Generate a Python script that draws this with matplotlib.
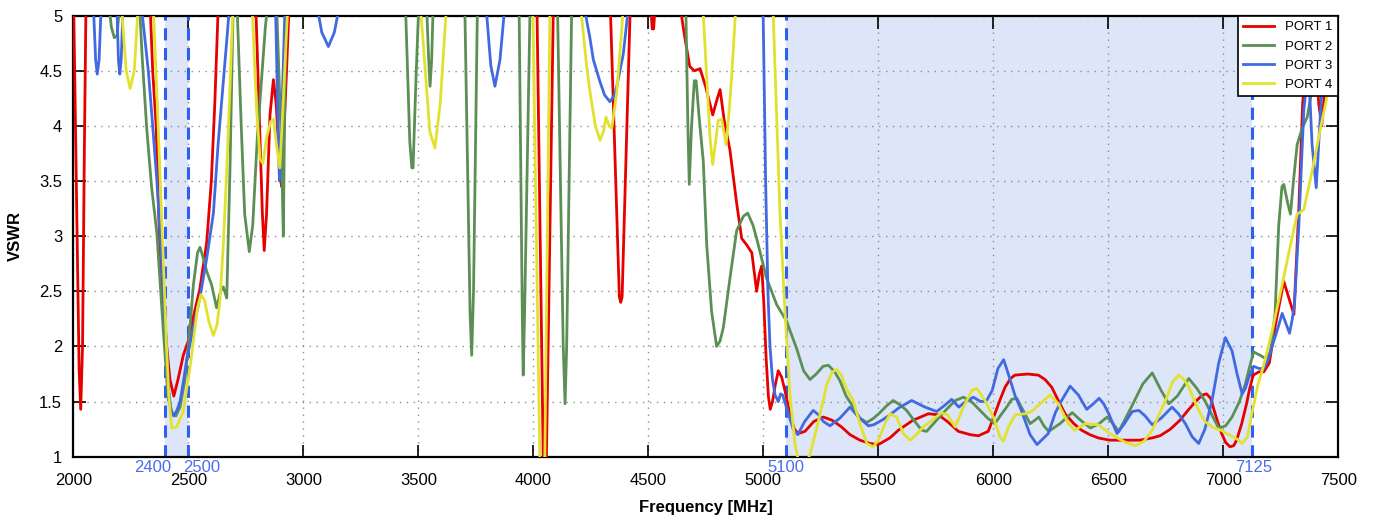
#!/usr/bin/python

"""
VSWR of the four antenna ports versus frequency
"""
import matplotlib
matplotlib.use('Agg')
import matplotlib.pyplot as plt
from matplotlib.ticker import MultipleLocator, FuncFormatter
from matplotlib.transforms import blended_transform_factory


# Data (values above 5 leave the plot at the top)
port1_freq = [
    2000, 2015, 2025, 2032, 2040, 2048, 2056,
    2330, 2345, 2360, 2374, 2390, 2406, 2420, 2437, 2455, 2478, 2500, 2525, 2550, 2580, 2600, 2615, 2632,
    2790, 2810, 2822, 2830, 2840, 2855, 2870, 2882, 2895, 2905, 2915, 2927, 2942,
    4015, 4043, 4050, 4057, 4088,
    4333, 4374, 4380, 4386, 4423,
    4510, 4517, 4523, 4530,
    4630, 4655, 4680, 4700, 4725, 4750, 4780, 4800, 4812, 4830,
    4855, 4884, 4906, 4928, 4950, 4962, 4971, 4982, 4993, 5002,
    5012, 5022, 5030, 5040, 5052, 5065, 5080, 5094, 5116, 5135,
    5152, 5181, 5220, 5261, 5300, 5340, 5377,
    5420, 5464, 5500, 5550, 5587, 5650, 5718, 5761, 5800, 5848,
    5900, 5935, 5978, 6007, 6030, 6051, 6075, 6094, 6150, 6196,
    6225, 6254, 6285, 6312, 6350, 6384, 6420, 6457,
    6507, 6580, 6638, 6690, 6725, 6770, 6811, 6850, 6884, 6910,
    6927, 6945, 6956, 6975, 6993, 7010, 7029, 7045, 7058, 7080,
    7101, 7115, 7130, 7155, 7176, 7200, 7227, 7250, 7263, 7285,
    7307, 7328, 7345, 7360, 7375, 7395, 7415, 7428, 7440, 7460, 7500,
]
port1_vswr = [
    5.3, 3.2, 1.8, 1.43, 2.0, 3.8, 5.3,
    5.3, 4.5, 4.0, 3.0, 2.4, 2.0, 1.7, 1.55, 1.7, 1.92, 2.05, 2.3, 2.52, 2.95, 3.5, 4.2, 5.2,
    5.3, 4.0, 3.2, 2.87, 3.2, 4.1, 4.42, 4.2, 3.7, 3.45, 3.9, 4.5, 5.3,
    5.2, 1.0, 0.8, 1.0, 5.2,
    5.2, 2.45, 2.4, 2.45, 5.2,
    5.1, 4.88, 4.88, 5.1,
    5.2, 4.85, 4.54, 4.5, 4.52, 4.35, 4.1, 4.25, 4.33, 4.05,
    3.78, 3.3, 2.98, 2.92, 2.85, 2.65, 2.5, 2.65, 2.73, 2.4,
    1.9, 1.55, 1.43, 1.5, 1.65, 1.78, 1.72, 1.6, 1.38, 1.25,
    1.21, 1.23, 1.32, 1.36, 1.33, 1.27, 1.2,
    1.15, 1.12, 1.11, 1.17, 1.24, 1.33, 1.39, 1.38, 1.32, 1.23,
    1.2, 1.19, 1.23, 1.39, 1.52, 1.63, 1.71, 1.74, 1.75, 1.74,
    1.7, 1.63, 1.5, 1.39, 1.3, 1.24, 1.2, 1.17,
    1.15, 1.15, 1.15, 1.17, 1.19, 1.25, 1.33, 1.43, 1.51, 1.56,
    1.57, 1.53, 1.45, 1.32, 1.21, 1.13, 1.09, 1.1, 1.15, 1.3,
    1.48, 1.62, 1.74, 1.77, 1.77, 1.85, 2.2, 2.45, 2.59, 2.44,
    2.29, 3.23, 4.2, 4.6, 5.1, 4.8, 4.2, 4.0, 4.3, 5.1, 5.5,
]

port2_freq = [
    2150, 2165, 2178, 2190, 2205,
    2285, 2300, 2319, 2340, 2363, 2392, 2413, 2430, 2446, 2464,
    2485, 2500, 2522, 2540, 2551, 2565, 2580, 2601, 2623, 2640,
    2652, 2667, 2681, 2696,
    2710, 2730, 2745, 2765, 2780, 2800, 2819, 2835, 2850,
    2882, 2905, 2913, 2918, 2925,
    3444, 3463, 3472, 3477, 3490, 3502,
    3534, 3545, 3551, 3558, 3566,
    3702, 3725, 3732, 3740, 3757,
    3938, 3952, 3956, 3962, 3986,
    4105, 4130, 4138, 4145, 4167,
    4662, 4672, 4678, 4688, 4700, 4708, 4720, 4739, 4754, 4775,
    4797, 4812, 4826, 4855, 4884, 4913, 4932, 4955, 4971, 5014,
    5058, 5101, 5145, 5175, 5203, 5230, 5260, 5283, 5310, 5333,
    5360, 5391, 5420, 5450, 5480, 5507, 5535, 5565, 5595, 5623,
    5655, 5689, 5710, 5740, 5770, 5797, 5835, 5870, 5905, 5942,
    5975, 6007, 6030, 6058, 6080, 6102, 6130, 6160, 6180, 6198,
    6220, 6241, 6290, 6343, 6380, 6422, 6460, 6495, 6520, 6546,
    6600, 6650, 6691, 6730, 6763, 6800, 6850, 6885, 6922, 6950,
    6980, 7010, 7038, 7070, 7096, 7115, 7132, 7160, 7184, 7205,
    7225, 7241, 7255, 7263, 7280, 7292, 7305, 7321, 7343, 7365,
    7394, 7423, 7445,
]
port2_vswr = [
    5.2, 4.9, 4.8, 4.82, 5.2,
    5.2, 4.6, 3.98, 3.45, 3.03, 2.12, 1.52, 1.4, 1.37, 1.45,
    1.7, 2.0, 2.56, 2.85, 2.9, 2.8, 2.68, 2.56, 2.35, 2.5,
    2.54, 2.44, 3.6, 5.2,
    5.2, 4.0, 3.2, 2.86, 3.1, 3.9, 4.44, 4.9, 5.2,
    5.2, 3.8, 3.0, 4.0, 5.2,
    5.1, 3.85, 3.62, 3.62, 4.44, 5.1,
    5.2, 4.6, 4.36, 4.6, 5.2,
    5.1, 2.3, 1.92, 2.5, 5.1,
    5.1, 2.3, 1.74, 2.3, 5.1,
    5.1, 2.0, 1.48, 2.0, 5.1,
    5.2, 4.0, 3.47, 4.0, 4.41, 4.41, 4.1, 3.68, 2.92, 2.32,
    2.0, 2.05, 2.17, 2.62, 3.05, 3.18, 3.21, 3.1, 2.98, 2.62,
    2.38, 2.23, 1.98, 1.78, 1.7, 1.75, 1.82, 1.83, 1.77, 1.69,
    1.55, 1.45, 1.35, 1.31, 1.35, 1.4, 1.46, 1.51, 1.47, 1.42,
    1.33, 1.24, 1.23, 1.3, 1.37, 1.43, 1.51, 1.54, 1.5, 1.42,
    1.35, 1.3, 1.37, 1.45, 1.52, 1.53, 1.42, 1.3, 1.33, 1.36,
    1.28, 1.23, 1.3, 1.4, 1.33, 1.26, 1.3, 1.36, 1.3, 1.23,
    1.45, 1.66, 1.76, 1.6, 1.48, 1.55, 1.71, 1.62, 1.5, 1.38,
    1.26, 1.28, 1.36, 1.5, 1.66, 1.82, 1.95, 1.92, 1.89, 1.95,
    2.3, 3.1, 3.45, 3.47, 3.3, 3.2, 3.5, 3.83, 3.98, 4.08,
    4.44, 4.86, 5.2,
]

port3_freq = [
    2085, 2097, 2104, 2112, 2123,
    2188, 2196, 2202, 2208, 2218,
    2290, 2308, 2326, 2345, 2363, 2378, 2392, 2405, 2415, 2425,
    2437, 2450, 2464, 2480, 2493, 2522, 2551, 2580, 2609, 2630,
    2652, 2670, 2683,
    2878, 2890, 2896, 2905, 2922,
    3050, 3080, 3109, 3135, 3167,
    3790, 3815, 3833, 3855, 3881,
    4210, 4246, 4261, 4290, 4310, 4333, 4350, 4362, 4391, 4420,
    4998, 5010, 5020, 5029, 5040, 5051, 5065, 5075, 5084, 5100,
    5115, 5130, 5150, 5180, 5217, 5240, 5261, 5290, 5333, 5377,
    5413, 5457, 5480, 5515, 5551, 5587, 5645, 5703, 5754, 5785,
    5819, 5850, 5880, 5913, 5945, 5971, 5995, 6020, 6045, 6070,
    6095, 6120, 6160, 6190, 6239, 6270, 6297, 6334, 6370, 6406,
    6435, 6460, 6480, 6502, 6538, 6570, 6604, 6633, 6660, 6691,
    6730, 6777, 6805, 6835, 6865, 6893, 6920, 6951, 6980, 7009,
    7038, 7060, 7082, 7096, 7111, 7132, 7155, 7176, 7195, 7212,
    7235, 7256, 7270, 7288, 7300, 7310, 7328, 7350, 7370, 7386,
    7404, 7423, 7444, 7455,
]
port3_vswr = [
    5.2, 4.6, 4.47, 4.6, 5.2,
    5.2, 4.6, 4.47, 4.6, 5.2,
    5.2, 4.85, 4.5, 4.0, 3.51, 3.0, 2.48, 2.0, 1.6, 1.4,
    1.37, 1.42, 1.5, 1.7, 1.88, 2.17, 2.45, 2.8, 3.21, 3.85,
    4.4, 4.85, 5.2,
    5.2, 4.0, 3.5, 4.0, 5.2,
    5.2, 4.85, 4.72, 4.85, 5.2,
    5.2, 4.55, 4.36, 4.6, 5.2,
    5.2, 4.8, 4.6, 4.4, 4.28, 4.22, 4.27, 4.35, 4.65, 5.2,
    5.2, 3.5, 2.5, 2.0, 1.7, 1.56, 1.5, 1.57, 1.56, 1.45,
    1.35, 1.25, 1.2, 1.32, 1.42, 1.38, 1.32, 1.28, 1.35, 1.45,
    1.36, 1.28, 1.29, 1.33, 1.38, 1.44, 1.51, 1.45, 1.41, 1.46,
    1.52, 1.45, 1.5, 1.54, 1.5, 1.51, 1.6, 1.8, 1.88, 1.72,
    1.55, 1.43, 1.2, 1.11, 1.21, 1.4, 1.51, 1.64, 1.56, 1.43,
    1.48, 1.53, 1.48, 1.39, 1.21, 1.3, 1.41, 1.42, 1.37, 1.29,
    1.35, 1.45, 1.39, 1.3, 1.18, 1.12, 1.25, 1.51, 1.85, 2.08,
    1.96, 1.75, 1.57, 1.62, 1.72, 1.82, 1.8, 1.8, 1.88, 2.0,
    2.15, 2.3, 2.22, 2.12, 2.25, 2.4, 3.08, 4.14, 4.55, 3.83,
    3.44, 4.14, 4.86, 5.2,
]

port4_freq = [
    2205, 2230, 2247, 2265, 2285,
    2345, 2365, 2378, 2391, 2405, 2415, 2428, 2449, 2478, 2493,
    2510, 2522, 2540, 2555, 2570, 2590, 2609, 2625, 2638, 2652,
    2667, 2680, 2696,
    2775, 2797, 2812, 2824, 2841, 2858, 2870, 2885, 2898, 2912, 2935,
    3505, 3530, 3550, 3572, 3595, 3626,
    3997, 4028, 4036, 4050, 4073,
    4200, 4232, 4247, 4270, 4290, 4305, 4316, 4330, 4341, 4362, 4380, 4395,
    4734, 4754, 4768, 4780, 4792, 4804, 4819, 4838, 4850, 4862, 4884,
    5040, 5072, 5094, 5116, 5138, 5152, 5170, 5190, 5203, 5232,
    5254, 5275, 5300, 5319, 5340, 5360, 5391, 5420, 5450, 5478,
    5500, 5529, 5551, 5580, 5609, 5638, 5665, 5700, 5740, 5775,
    5800, 5834, 5870, 5906, 5928, 5964, 6000, 6029, 6044, 6066,
    6095, 6138, 6167, 6203, 6247, 6283, 6326, 6355, 6399, 6457,
    6500, 6531, 6575, 6618, 6655, 6691, 6720, 6749, 6780, 6806,
    6830, 6850, 6893, 6920, 6951, 6990, 7024, 7060, 7082, 7105,
    7126, 7150, 7169, 7190, 7212, 7256, 7292, 7321, 7350, 7386,
    7423, 7459, 7495,
]
port4_vswr = [
    5.2, 4.5, 4.34, 4.5, 5.2,
    5.2, 4.2, 3.5, 2.8, 2.0, 1.55, 1.26, 1.27, 1.41, 1.62,
    1.85, 2.05, 2.35, 2.47, 2.42, 2.22, 2.1, 2.2, 2.43, 2.92,
    3.6, 4.3, 5.2,
    5.2, 4.14, 3.7, 3.66, 3.9, 4.04, 4.06, 3.8, 3.62, 4.2, 5.2,
    5.2, 4.5, 3.95, 3.8, 4.2, 5.2,
    5.2, 1.0, 0.8, 1.0, 5.2,
    5.2, 4.54, 4.3, 4.0, 3.87, 3.95, 4.08, 4.0, 3.98, 4.29, 4.75, 5.2,
    5.2, 4.44, 3.9, 3.65, 3.85, 4.05, 4.06, 3.83, 4.1, 4.44, 5.2,
    5.2, 3.23, 2.32, 1.56, 1.11, 0.97, 0.94, 0.96, 1.02, 1.26,
    1.45, 1.65, 1.77, 1.79, 1.74, 1.62, 1.51, 1.3, 1.12, 1.09,
    1.15, 1.3, 1.39, 1.36, 1.21, 1.15, 1.2, 1.28, 1.34, 1.4,
    1.38, 1.27, 1.45, 1.6, 1.62, 1.51, 1.36, 1.18, 1.14, 1.27,
    1.38, 1.39, 1.41, 1.48, 1.56, 1.48, 1.3, 1.24, 1.3, 1.29,
    1.22, 1.18, 1.13, 1.1, 1.14, 1.24, 1.38, 1.51, 1.68, 1.74,
    1.7, 1.63, 1.42, 1.32, 1.27, 1.24, 1.2, 1.16, 1.12, 1.18,
    1.41, 1.65, 1.78, 1.95, 2.14, 2.56, 2.92, 3.2, 3.24, 3.59,
    3.98, 4.35, 4.74,
]

port_labels = ['PORT 1', 'PORT 2', 'PORT 3', 'PORT 4']
port_colors = ['#e60000', '#5b8f56', '#4169e1', '#e2e22e']

# Frequency bands (MHz)
bands = [(2400, 2500), (5100, 7125)]
band_edges = [2400, 2500, 5100, 7125]


def plot_vswr():
    fig = plt.figure(figsize=(13.76, 5.2), dpi=100)
    ax = fig.add_axes([0.0533, 0.1217, 0.9193, 0.8481])

    # Shaded bands and their dashed edges
    for lo, hi in bands:
        ax.axvspan(lo, hi, color='#dce6f8', lw=0, zorder=0.2)
    for edge in band_edges:
        ax.axvline(edge, color='#2f5ff0', lw=2.2, ls=(0, (4, 2.5)), zorder=1.6)

    # Edge labels just under the axis
    trans = blended_transform_factory(ax.transData, ax.transAxes)
    offsets = {2400: (4, 'right'), 2500: (-4, 'left'), 5100: (0, 'center'), 7125: (1, 'center')}
    for edge in band_edges:
        dx, ha = offsets[edge]
        ax.annotate(str(edge), xy=(edge, -0.024), xycoords=trans,
                    xytext=(dx, 0), textcoords='offset points',
                    ha=ha, va='center', fontsize=12, color='#4a6cf0',
                    annotation_clip=False)

    # Ports
    series = [
        (port1_freq, port1_vswr),
        (port2_freq, port2_vswr),
        (port3_freq, port3_vswr),
        (port4_freq, port4_vswr),
    ]
    for (freq, vswr), label, color in zip(series, port_labels, port_colors):
        assert len(freq) == len(vswr), label
        ax.plot(freq, vswr, color=color, lw=2.0, label=label, zorder=3,
                solid_joinstyle='round')

    ax.set_xlim(2000, 7500)
    ax.set_ylim(1, 5)
    ax.xaxis.set_major_locator(MultipleLocator(500))
    ax.yaxis.set_major_locator(MultipleLocator(0.5))
    ax.yaxis.set_major_formatter(FuncFormatter(lambda v, p: '%g' % v))

    ax.grid(True, color='#8c8c8c', ls=(0, (1, 4)), lw=1.0)
    ax.tick_params(direction='in', length=9, width=1.2, top=True, right=True,
                   labelsize=12)
    ax.tick_params(axis='x', pad=12)
    ax.tick_params(axis='y', pad=8)
    for sp in ax.spines.values():
        sp.set_linewidth(1.6)

    ax.set_xlabel('Frequency [MHz]', fontsize=12, fontweight='bold')
    ax.xaxis.set_label_coords(0.5, -0.099)
    ax.set_ylabel('VSWR', fontsize=12, fontweight='bold')
    ax.yaxis.set_label_coords(-0.0395, 0.5)

    leg = ax.legend(loc='upper right', borderaxespad=0, fancybox=False,
                    edgecolor='black', framealpha=1, fontsize=9.5,
                    handlelength=2.3, labelspacing=0.52, borderpad=0.42,
                    handletextpad=0.9)
    leg.get_frame().set_linewidth(1.2)
    leg.set_zorder(10)

    fig.savefig('out.png', dpi=100)


def main():
    plt.rcParams['font.family'] = ['Liberation Sans', 'DejaVu Sans']
    plot_vswr()


if __name__ == '__main__':
    main()
